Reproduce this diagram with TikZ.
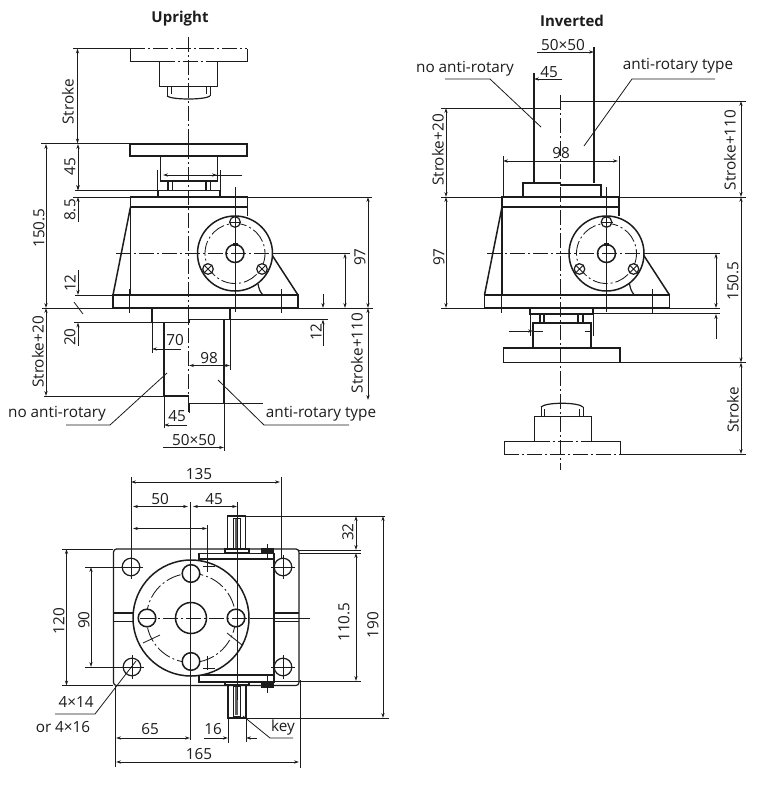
\documentclass[tikz,border=0pt]{standalone}
\usepackage{fontspec}
\setmainfont{Open Sans}
\usetikzlibrary{arrows.meta}
\definecolor{ink}{HTML}{1C1C1C}
\tikzset{
  thin line/.style={draw=ink,line width=0.8pt},
  heavy/.style={draw=ink,line width=1.5pt},
  mid/.style={draw=ink,line width=1.2pt},
  axis/.style={draw=ink,line width=0.85pt,dash pattern=on 15pt off 3pt on 2pt off 3pt},
  dimn/.style={draw=ink,line width=0.8pt,{Stealth[length=5pt,width=3.2pt]}-{Stealth[length=5pt,width=3.2pt]}},
  dimr/.style={draw=ink,line width=0.8pt,-{Stealth[length=5pt,width=3.2pt]}},
  lab/.style={text=ink,font=\fontsize{15.3}{15}\selectfont,inner sep=0pt},
  vlab/.style={lab,rotate=90},
  head/.style={text=ink,font=\bfseries\fontsize{15}{15}\selectfont,inner sep=0pt},
}
\newcommand{\gearfront}{%
  \draw[heavy] (130.5,207)--(113,295);
  \draw[heavy] (130.5,197)--(130.5,295);
  \draw[heavy] (130.5,197) rectangle (247.5,207);
  \draw[heavy] (247.5,207)--(247.5,216);
  \draw[heavy] (113,295) rectangle (298,308);
  \draw[heavy] (272,255)--(298,295);
  \draw[mid] (258,284) .. controls (259,289) and (260,292) .. (263,295);
  \draw[heavy,fill=white] (235,253.5) circle (37.5);
  \draw[axis] (235,253.5) circle (30);
  \draw[heavy] (235,253.5) circle (9);
  \fill[ink] (232.5,243) rectangle (237.5,245.5);
  \draw[mid,fill=white] (235,222) circle (5.3);
  \draw[thin line] (229,222)--(241,222);
  \foreach \bx/\by in {208/269,262/269}{
    \draw[mid,fill=white] (\bx,\by) circle (5.3);
    \draw[thin line] (\bx-4,\by-4)--(\bx+4,\by+4) (\bx+4,\by-4)--(\bx-4,\by+4);
  }
  \draw[thin line] (235,187)--(235,216) (235,216)--(235,312);
  \draw[thin line] (129.5,289)--(129.5,313) (281,289)--(281,313);
}
\begin{document}
\begin{tikzpicture}[x=1pt,y=-1pt]
\useasboundingbox[fill=white] (0,0) rectangle (776,787);

% ===== UPRIGHT =====
\node[head] (t1) at (180,19) {Upright};
\draw[axis] (188,37)--(188,144);
\draw[thin line] (73,48.5)--(130,48.5);
\draw[axis] (130,48.5)--(247,48.5);
\draw[axis] (159.5,61.5)--(217,61.5);
\draw[axis] (159.5,86.5)--(217,86.5);
\draw[thin line] (130,48.5)--(130,61.5)--(159.5,61.5)--(159.5,86.5)--(217,86.5)--(217,61.5)--(247,61.5)--(247,48.5);
\draw[thin line] (167,86.5)--(167,96) (171,86.5)--(171,94) (210,86.5)--(210,96) (206,86.5)--(206,94);
\draw[mid] (167,96) .. controls (172,100) and (205,100) .. (210,96);
\draw[heavy] (130,144) rectangle (247,156);
\draw[heavy] (160.5,156)--(160.5,181)--(217.5,181)--(217.5,156);
\draw[mid] (168,181)--(168,190) (172.5,181)--(172.5,190) (206,181)--(206,190) (210.5,181)--(210.5,190);
\draw[heavy] (158,197)--(158,190.5)--(220,190.5)--(220,197);
\draw[thin line] (157,170)--(157,190) (220.5,170)--(220.5,190);
\draw[thin line] (41,143.5)--(130,143.5);
\draw[thin line] (75,190.5)--(158,190.5);
\draw[thin line] (73,197)--(130,197) (247,197)--(372,197);
\draw[dimr] (242,175)--(163,175);
\draw[dimr] (200,175)--(217,175);
\draw[axis] (188.5,144)--(188.5,413);
\gearfront
\draw[dimn] (77.5,48.5)--(77.5,143.5);
\node[vlab] (us) at (68,102) {Stroke};
\draw[dimn] (78,144)--(78,190);
\node[vlab] (u45) at (70,167) {45};
\draw[dimr] (78,178)--(78,190.5);
\draw[dimr] (78,222)--(78,197);
\node[vlab] (u85) at (70,210) {8.5};
\draw[dimn] (46,144)--(46,308);
\node[vlab] (u150) at (39,228) {150.5};
\draw[thin line] (42,308)--(373,308);
\draw[thin line] (75,295)--(113,295);
\draw[dimr] (78,270)--(78,295);
\node[vlab] (u12a) at (70,283) {12};
\draw[thin line] (74,302)--(83,314);
\draw[dimr] (78,346)--(78,322.5);
\node[vlab] (u20) at (70,337) {20};
\draw[heavy] (152,308)--(152,322.5)--(189,322.5)--(189,319.5)--(230,319.5)--(230,308);
\draw[heavy] (164,322.5)--(164,396)--(189,396);
\draw[heavy] (224,319.5)--(224,403.5)--(189,403.5);
\draw[thin line] (74,322.5)--(152,322.5);
\draw[thin line] (230,319.5)--(328,319.5);
\draw[thin line] (44,396)--(164,396);
\draw[thin line] (224,403.5)--(263,403.5);
\draw[thin line] (152,322.5)--(152,353) (230,319.5)--(230,370);
\draw[dimr] (181,349)--(152,349);
\node[lab] (u70) at (175,340) {70};
\draw[dimn] (189,365.5)--(230,365.5);
\node[lab] (u98) at (209,358) {98};
\draw[dimr] (323,294)--(323,308);
\draw[dimr] (323,346)--(323,319.5);
\node[vlab] (u12b) at (316,332) {12};
\draw[dimn] (345,253.5)--(345,308);
\draw[thin line] (272,253.5)--(350,253.5);
\draw[axis] (116,253.5)--(272,253.5);
\node[vlab] (u97) at (360,257) {97};
\draw[dimn] (368,197)--(368,308);
\draw[dimn] (368,308)--(368,400);
\node[vlab] (u110) at (357,353) {Stroke+110};
\draw[dimn] (46,308)--(46,396);
\node[vlab] (u20s) at (38,352) {Stroke+20};
\draw[thin line] (164,396)--(164,428) (189,403)--(189,413);
\draw[dimr] (187,425)--(164,425);
\node[lab] (u45b) at (177,416) {45};
\draw[thin line] (224,403)--(224,451);
\draw[dimr] (163,447.5)--(224,447.5);
\node[lab] (u50) at (194,440) {50×50};
\node[lab] (una) at (57,414) {no anti-rotary};
\coordinate (unb) at (167,373);
\draw[thin line] (66,425)--(110,425)--(unb);
\node[lab] (uat) at (321,414) {anti-rotary type};
\coordinate (uab) at (218,380);
\draw[thin line] (349,425)--(264,425)--(uab);

% ===== INVERTED =====
\node[head] (t2) at (572,21) {Inverted};
\node[lab] (i50) at (563,45) {50×50};
\draw[dimr] (537,52)--(594,52);
\draw[heavy] (594,47)--(594,183);
\node[lab] (i45) at (549,72) {45};
\draw[dimr] (562,79)--(534,79);
\draw[heavy] (534,73)--(534,183);
\node[lab] (ina) at (465,69) {no anti-rotary};
\coordinate (inb) at (541,127);
\draw[thin line] (445,79)--(490,79)--(inb);
\node[lab] (iat) at (678,66) {anti-rotary type};
\coordinate (iab) at (584,146);
\draw[thin line] (715,79)--(632,79)--(iab);
\draw[thin line] (441,108)--(560,108);
\draw[thin line] (560,101)--(746,101);
\draw[axis] (560.5,95)--(560.5,470);
\draw[dimn] (446,108)--(446,197);
\node[vlab] (i20) at (438,150) {Stroke+20};
\draw[dimn] (741,101)--(741,197);
\node[vlab] (i110) at (730,150) {Stroke+110};
\node[lab] (i98) at (561,153) {98};
\draw[dimn] (503,161)--(618,161);
\draw[thin line] (503,156)--(503,197) (619,156)--(619,197);
\draw[heavy] (523,197)--(523,183)--(560.5,183)--(560.5,185)--(601,185)--(601,197);
\draw[thin line] (441,197)--(746,197);
\begin{scope}[shift={(371.5,0)}]
\gearfront
\end{scope}
\draw[thin line] (644,253.5)--(720,253.5);
\draw[axis] (487,253.5)--(644,253.5);
\draw[dimn] (446,197)--(446,308);
\node[vlab] (i97) at (439,257) {97};
\draw[thin line] (441,308)--(484,308) (669,308)--(720,308);
\draw[thin line] (593,313.5)--(720,313.5);
\draw[mid] (530,308)--(530,314)--(593,314)--(593,308);
\draw[mid] (540,314)--(540,323) (544,314)--(544,323) (578,314)--(578,323) (583,314)--(583,323);
\draw[heavy] (533,348)--(533,323)--(591,323)--(591,348);
\draw[thin line] (530,314)--(530,336) (593,314)--(593,336);
\draw[dimr] (509,331)--(533,331);
\draw[thin line] (533,331)--(543,331) (585,331)--(591,331);
\draw[heavy] (503.5,348) rectangle (620,362.5);
\draw[dimn] (716,253.5)--(716,308);
\draw[dimr] (716,339)--(716,314);
\node[vlab] (i150) at (733,281) {150.5};
\draw[dimn] (741,197)--(741,362.5);
\draw[dimn] (741,362.5)--(741,454);
\draw[thin line] (620,362.5)--(746,362.5) (620,454)--(746,454);
\node[vlab] (is) at (733,410) {Stroke};
\draw[thin line] (504,454)--(504,441)--(534.5,441)--(534.5,416)--(591,416)--(591,441)--(620,441)--(620,454);
\draw[axis] (504,454)--(620,454);
\draw[axis] (534.5,441)--(591,441);
\draw[axis] (534.5,416)--(591,416);
\draw[thin line] (541,416)--(541,407) (544.5,416)--(544.5,409) (583,416)--(583,407) (579.5,416)--(579.5,409);
\draw[mid] (541,407) .. controls (546,402) and (578,402) .. (583,407);

% ===== BOTTOM VIEW =====
\draw[mid,rounded corners=3pt] (113.5,549) rectangle (299,685.5);
% shafts
\draw[mid] (227.5,549)--(227.5,516)--(245.5,516)--(245.5,549);
\draw[thin line] (233,518) rectangle (240,549);
\fill[ink!70] (235,519) rectangle (238,548);
\draw[mid] (225,549) rectangle (249,553);
\draw[mid] (228,685)--(228,718)--(246,718)--(246,685);
\draw[thin line] (233,686) rectangle (240,716);
\fill[ink!70] (235,687) rectangle (238,715);
\draw[mid] (225,682) rectangle (249,685);
% gear case outline
\draw[mid] (199,560)--(199,553.5)--(274,553.5)--(274,682)--(199,682)--(199,675);
\draw[mid] (199,559)--(274,559);
\draw[mid] (199,675)--(274,675);
\draw[thin line] (267,544)--(267,560) (267,675)--(267,693);
\fill[ink] (261,548) rectangle (274,553);
\fill[ink] (261,682) rectangle (274,688);
% slots
\draw[mid] (113.5,613)--(136,613) (113.5,621.5)--(135,621.5);
\draw[mid] (274,613)--(299,613) (274,621.5)--(299,621.5);
% flange
\draw[heavy,fill=white] (191,618) circle (58);
\draw[axis] (191,618) circle (44.5);
\draw[heavy] (191,618) circle (15.5);
% holes
\foreach \hx/\hy in {191/573.5,191/661.5,147/618,236/618}{
  \draw[heavy,fill=white] (\hx,\hy) circle (8.8);
}
\foreach \hx/\hy in {131/567,132/667,283/567,283/667}{
  \draw[mid,fill=white] (\hx,\hy) circle (8.8);
  \draw[thin line] (\hx-12,\hy)--(\hx+12,\hy) (\hx,\hy-12)--(\hx,\hy+12);
}
% centre lines
\draw[thin line] (190,502)--(190,740);
\draw[thin line] (237,502)--(237,700);
\draw[thin line] (250,618)--(310,618);
\draw[axis] (140,618)--(250,618);
\draw[thin line] (143,643)--(160,635) (227,633)--(242,645);
\draw[thin line] (207.5,525)--(207.5,564);
\draw[axis] (207.5,564)--(207.5,572);
\draw[axis] (207.5,656)--(207.5,670);
\draw[thin line] (203,566)--(215,566) (203,668)--(215,668);
% dims
\node[lab] (b135) at (199,474) {135};
\draw[dimn] (131,482)--(280,482);
\draw[thin line] (131,477)--(131,558) (281,477)--(281,558);
\node[lab] (b50) at (160,499) {50};
\draw[dimn] (133,506.5)--(188,506.5);
\node[lab] (b45) at (214,499) {45};
\draw[dimn] (193,506.5)--(237,506.5);
\draw[dimn] (133,528.5)--(207,528.5);
\draw[thin line] (246,516)--(385,516);
\draw[thin line] (299,550)--(361,550) (299,553)--(361,553);
\draw[thin line] (274,681)--(361,681);
\draw[thin line] (246,718)--(389,718);
\draw[dimn] (356,516)--(356,550);
\node[vlab] (b32) at (348,532) {32};
\draw[dimn] (356,553)--(356,681);
\node[vlab] (b110) at (344,622) {110.5};
\draw[dimn] (383,516)--(383,718);
\node[vlab] (b190) at (373,625) {190};
\draw[thin line] (62,549)--(113,549) (62,685.5)--(113,685.5);
\draw[dimn] (66.5,549)--(66.5,685.5);
\node[vlab] (b120) at (59,621) {120};
\draw[thin line] (85,567)--(122,567) (85,667)--(122,667);
\draw[dimn] (91,567)--(91,667);
\node[vlab] (b90) at (84,620) {90};
\node[lab] (b414) at (76,702) {4×14};
\node[lab] (b416) at (63,727) {or 4×16};
\coordinate (bhole) at (136,661);
\draw[thin line] (55,714)--(95,714)--(bhole);
\node[lab] (b65) at (150,729) {65};
\draw[dimn] (116,738)--(190,738);
\node[lab] (b16) at (213,729) {16};
\draw[dimr] (204,738)--(228,738);
\draw[dimr] (257,738)--(246,738);
\draw[thin line] (228,718)--(228,743) (246,718)--(246,742);
\node[lab] (bkey) at (283,728) {key};
\coordinate (bkp) at (243,716);
\draw[thin line] (293,738)--(270,738)--(bkp);
\node[lab] (b165) at (199,754) {165};
\draw[dimn] (116,762)--(299,762);
\draw[thin line] (115,686)--(115,767) (300,680)--(300,768);
\end{tikzpicture}
\end{document}
